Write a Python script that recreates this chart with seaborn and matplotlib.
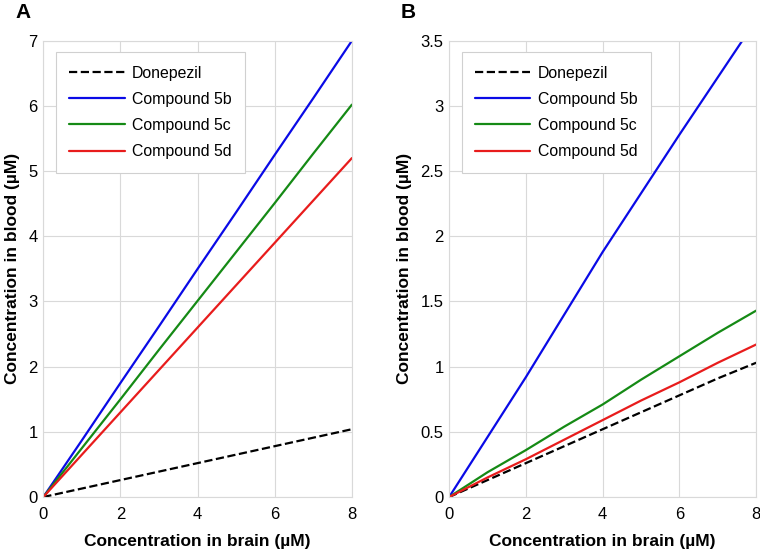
import numpy as np
import pandas as pd
import matplotlib
matplotlib.use("Agg")
import matplotlib.pyplot as plt
import seaborn as sns
from matplotlib.ticker import FormatStrFormatter

# Data
brain = [0, 1, 2, 3, 4, 5, 6, 7, 8]
series_names = ["Donepezil", "Compound 5b", "Compound 5c", "Compound 5d"]

# Panel A
a_donepezil = [0, 0.13, 0.26, 0.39, 0.52, 0.65, 0.78, 0.91, 1.04]
a_5b = [0, 0.87, 1.75, 2.62, 3.50, 4.37, 5.25, 6.12, 7.00]
a_5c = [0, 0.75, 1.50, 2.26, 3.01, 3.76, 4.51, 5.27, 6.02]
a_5d = [0, 0.65, 1.30, 1.95, 2.60, 3.25, 3.90, 4.55, 5.20]

# Panel B
b_donepezil = [0, 0.13, 0.26, 0.39, 0.52, 0.65, 0.78, 0.91, 1.03]
b_5b = [0, 0.46, 0.92, 1.40, 1.88, 2.33, 2.78, 3.22, 3.66]
b_5c = [0, 0.19, 0.36, 0.54, 0.71, 0.90, 1.08, 1.26, 1.43]
b_5d = [0, 0.15, 0.29, 0.44, 0.59, 0.74, 0.88, 1.03, 1.17]

a_yticks = [0, 1, 2, 3, 4, 5, 6, 7]
b_yticks = [0, 0.5, 1, 1.5, 2, 2.5, 3, 3.5]
xticks = [0, 2, 4, 6, 8]

colors = ["black", "#0a0ae6", "#158a15", "#e81c1c"]
styles = ["--", "-", "-", "-"]

sns.set_style("whitegrid")
plt.rcParams["font.family"] = ["Liberation Sans", "DejaVu Sans"]
plt.rcParams["text.color"] = "black"
plt.rcParams["axes.labelcolor"] = "black"
plt.rcParams["xtick.color"] = "black"
plt.rcParams["ytick.color"] = "black"

fig = plt.figure(figsize=(7.6, 5.51), dpi=100)
axA = fig.add_axes([0.057, 0.098, 0.406, 0.828])
axB = fig.add_axes([0.591, 0.098, 0.404, 0.828])


def draw_panel(ax, data, ymax, yticks):
    for name, vals, c, ls in zip(series_names, data, colors, styles):
        df = pd.DataFrame({"brain": brain, "blood": vals})
        sns.lineplot(data=df, x="brain", y="blood", ax=ax, color=c,
                     linestyle=ls, linewidth=1.6, label=name)
    ax.set_xlim(0, 8)
    ax.set_ylim(0, ymax)
    ax.set_xticks(xticks)
    ax.set_yticks(yticks)
    ax.yaxis.set_major_formatter(FormatStrFormatter("%g"))
    ax.grid(True, color="#d9d9d9", linewidth=0.8)
    for s in ax.spines.values():
        s.set_color("#d9d9d9")
        s.set_linewidth(0.8)
    ax.tick_params(axis="x", length=0, labelsize=12, pad=7)
    ax.tick_params(axis="y", length=0, labelsize=12, pad=4)
    ax.set_xlabel("Concentration in brain (\u00b5M)", fontsize=12.5,
                  fontweight="bold", labelpad=9)
    ax.set_ylabel("Concentration in blood (\u00b5M)", fontsize=12.5,
                  fontweight="bold", labelpad=6)
    leg = ax.legend(loc="upper left", bbox_to_anchor=(0.025, 0.985),
                    fontsize=11.4, handlelength=3.5, handletextpad=0.45,
                    labelspacing=0.7, borderpad=0.85, fancybox=False,
                    framealpha=1, borderaxespad=0.3)
    leg.get_frame().set_edgecolor("#d0d0d0")
    leg.get_frame().set_linewidth(0.8)


draw_panel(axA, [a_donepezil, a_5b, a_5c, a_5d], 7, a_yticks)
draw_panel(axB, [b_donepezil, b_5b, b_5c, b_5d], 3.5, b_yticks)

fig.text(0.021, 0.968, "A", fontsize=15, fontweight="bold", va="baseline")
fig.text(0.527, 0.968, "B", fontsize=15, fontweight="bold", va="baseline")

fig.savefig("out.png", dpi=100)
